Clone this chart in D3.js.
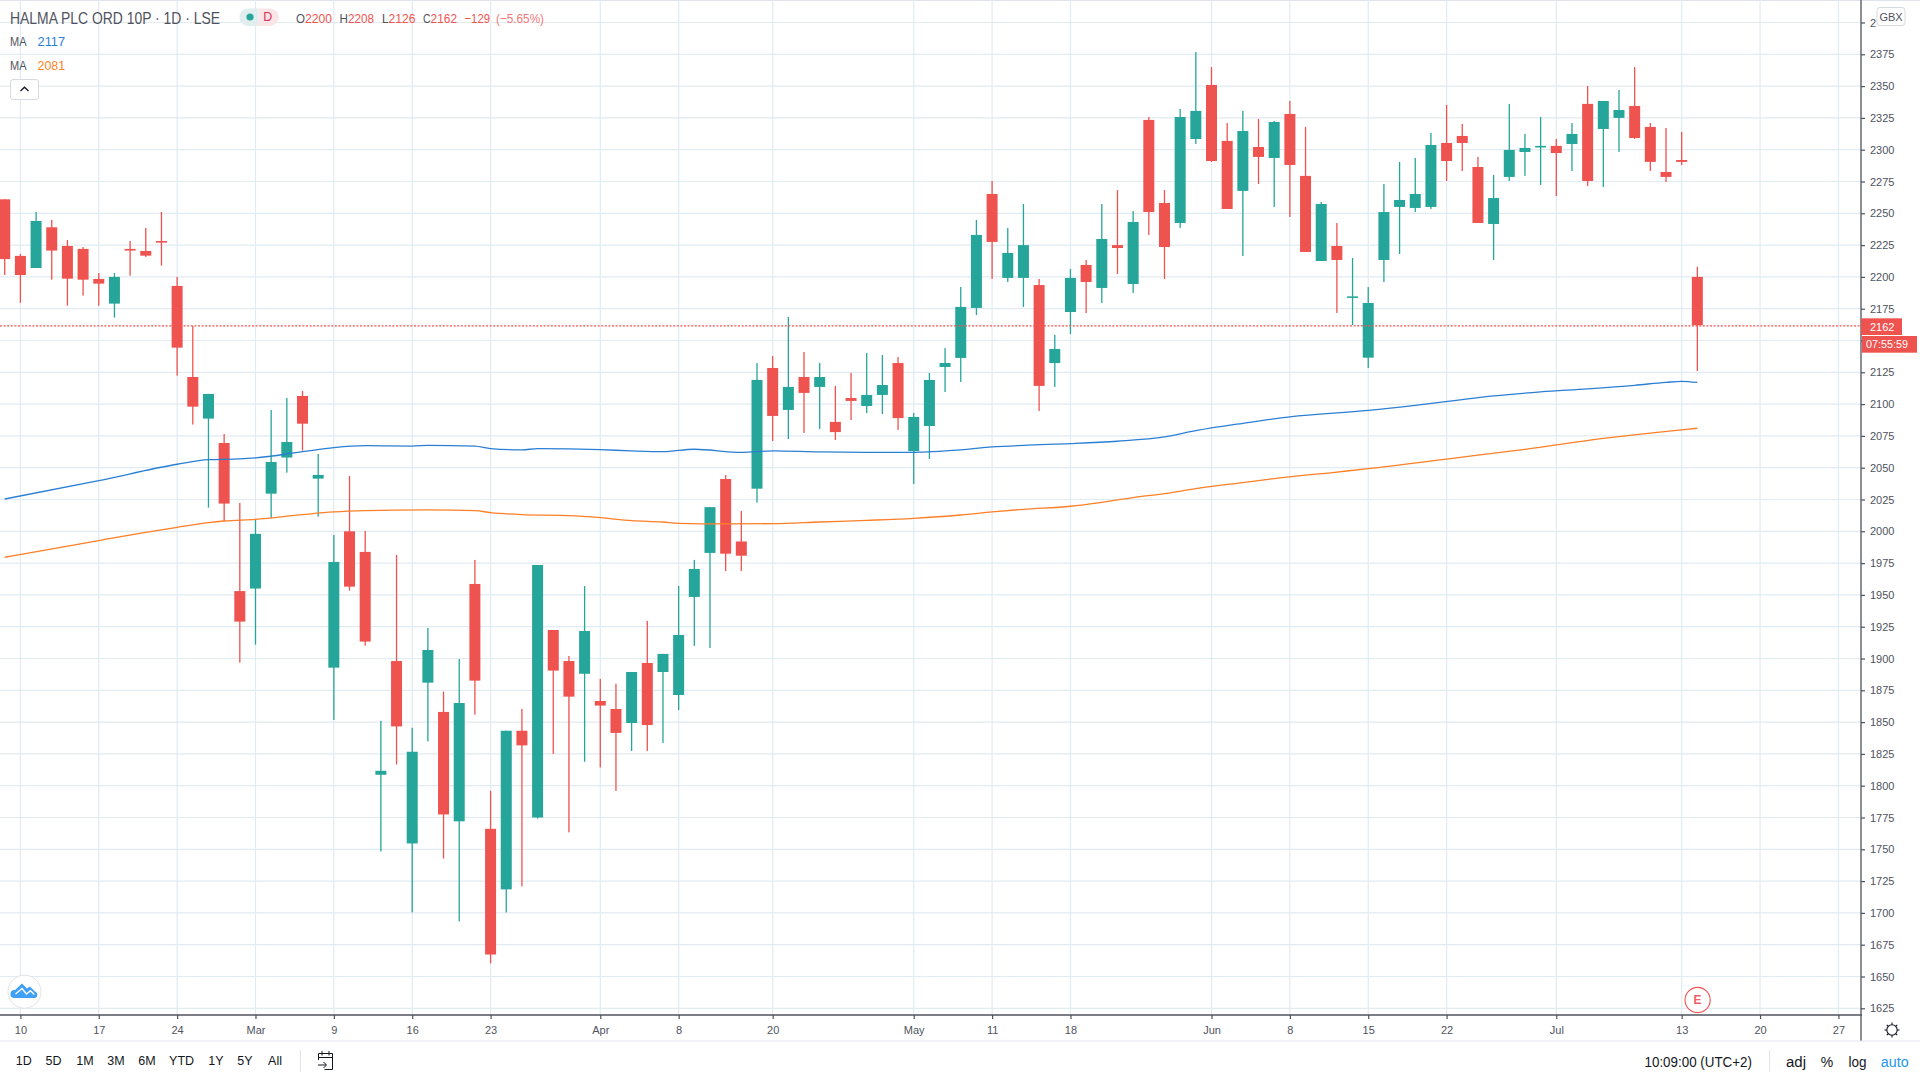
<!doctype html>
<html lang="en">
  <head>
    <meta charset="utf-8">
    <title>HALMA PLC ORD 10P</title>
    <script src="https://d3js.org/d3.v7.min.js"></script>
    <style>
      html, body { margin: 0; padding: 0; background: #fff; }
      svg { display: block; }
      text { font-family: "Liberation Sans", Arial, sans-serif; fill: #50535e; }
    </style>
  </head>
  <body>
    <svg id="chart" width="1920" height="1080"></svg>

    <script>
      // bars run from Feb 7 (bar -1) to Jul 14 (bar 107), LSE trading days only
      var firstBar = -1
      var opens = [2261,2216.5,2207,2239,2224.3,2222,2198.4,2179,2222,2220.4,2228.2,2192.9,2121.3,2088.6,2069.4,1953,1955,2029.6,2058,2106.4,2041.4,1892.8,2000,1983.8,1808.6,1898,1754.6,1881,1858,1772,1958.6,1766.1,1718.5,1843.2,1775,1922.4,1898,1888,1866.6,1860.3,1849.3,1896.5,1889.4,1871.3,1948.4,1983,2041.1,1992,2033.5,2128.4,2095.4,2121.3,2113.5,2086,2104.8,2098.5,2107.2,2132.3,2063,2082.8,2129.2,2136.3,2175.6,2265.2,2199.2,2199.2,2193.6,2132.3,2172.4,2209.4,2191.3,2225,2194.4,2323.4,2258.1,2242.4,2308.4,2350.9,2306.9,2267.6,2302.1,2293.5,2328.1,2279.4,2212.5,2224.3,2184.3,2136.5,2213.3,2255,2254.2,2255,2305.3,2310.8,2286.4,2241.6,2278.6,2298.2,2302.2,2303,2304.5,2336,2316.3,2325,2334.4,2317.9,2282.5,2291.9,2200]
      var highs = [2261,2218,2251,2244.8,2229,2223.5,2203,2203,2228.2,2238.5,2251,2200,2161.4,2108,2076.5,2022.3,2009.4,2095.4,2104.8,2110.3,2060.8,1997.1,2043.5,2000.3,1851,1981.4,1845.5,1924,1874,1899.6,1977.5,1796,1843.2,1860.3,1973.5,1922.4,1902,1956.9,1884,1880.2,1889.4,1929.5,1903.6,1957,1977.5,2019,2044.3,2016,2132.3,2137.8,2168.5,2141,2132.3,2114.3,2124.5,2140.2,2138.6,2137,2093,2124.5,2144,2192.1,2244.8,2275.4,2238.5,2257.3,2198.4,2154.4,2206.2,2213.3,2257.3,2268.3,2251.8,2325.7,2268.3,2332,2376.8,2365,2321,2330.5,2324.2,2322.6,2338.3,2317.9,2258.9,2242.4,2214.9,2192,2273,2290.4,2293.5,2313.2,2335.2,2320.2,2294.3,2280.1,2336,2312.4,2325.7,2308.4,2321,2350.1,2338.3,2347,2365,2321,2317.1,2314,2208]
      var lows = [2201.5,2179.6,2207,2197.8,2177.4,2185.3,2177.4,2168,2201,2215.7,2208.9,2122.4,2083.9,2018.6,2007.9,1896.7,1910.9,2010.2,2046.1,2063.4,2011.5,1851.7,1953.4,1910,1748.3,1816.7,1700.4,1834.8,1742.8,1693.3,1855.9,1660.3,1700.4,1720.8,1774,1825,1763.3,1818.8,1814.4,1795.9,1827.3,1827.3,1833.6,1859.5,1909.9,1908.3,1968.8,1968.8,2022.5,2071,2072.6,2077.3,2080.5,2071.8,2087.5,2093,2092.2,2079.7,2037.2,2056.9,2109.5,2117.4,2170,2198.4,2196,2176.4,2094.6,2113.5,2155.1,2171.6,2179.5,2202.3,2187.4,2233,2198.4,2238.5,2304.5,2290.4,2253.4,2216.4,2273,2255,2247.1,2219.6,2212.5,2171.6,2162.2,2128.4,2196,2218,2251,2253.4,2275.4,2283.3,2242.4,2213.3,2275.4,2279.4,2272.3,2263.6,2283.3,2271.5,2270.7,2298.2,2308.4,2283.3,2274.6,2288,2126]
      var closes = [2214,2201.5,2244,2220.7,2198.6,2197.8,2194.7,2200,2220.7,2216.7,2227,2144.4,2098,2108,2021.8,1929,1998,2054.5,2070.2,2084.6,2044.3,1975.9,1956.5,1913.3,1811.7,1846.6,1826.7,1906.7,1777.4,1865,1882.6,1667.3,1843.2,1831.7,1973.5,1890.5,1870,1921.6,1863,1841.5,1889.4,1847.7,1903.6,1918.5,1970.4,2019,1982.4,1980.8,2119,2090.7,2113.5,2108.8,2121.3,2078,2102.5,2107.2,2115,2089,2089.9,2119,2132.3,2176.4,2233,2227.5,2218.8,2225,2114.3,2143.3,2199.2,2196,2229.8,2222.7,2243.2,2251,2223.5,2325.7,2330.5,2291.1,2253.4,2314.7,2294.3,2321.8,2288,2219.6,2257.3,2213.3,2184.7,2179.5,2251,2260.5,2265.2,2303.7,2291.1,2305.3,2242.4,2262,2299.8,2301.4,2303,2297.4,2312.4,2275.4,2338.3,2331.2,2309.2,2290.4,2278.6,2290.4,2162]

      var blueBars = [-1,5,10,12,14,15,18,20,22,25,26,29,30,32,33,37,39,41,43,46,48,51,54,57,60,62,64,67,70,73,75,78,81,86,89,92,94,97,100,103,105,106,107]
      var blueValues = [2025.4,2039.8,2052.7,2056.3,2056.9,2057.7,2062.6,2065.8,2067.3,2067,2067.6,2067,2065,2064,2065,2064.2,2063.2,2062.6,2064.5,2062.1,2063.2,2062.4,2062.1,2062.1,2064,2066.3,2067.6,2068.9,2070.8,2074.2,2079.1,2084.9,2090,2095,2099,2103.6,2106.4,2109.6,2112,2114.8,2117.1,2117.9,2117]
      var orangeBars = [-1,5,8,10,12,13,15,18,20,22,26,29,30,32,35,37,39,41,42,45,48,51,54,57,60,62,64,67,69,71,73,75,78,80,84,86,91,96,101,106,107]
      var orangeValues = [1979.6,1992.7,1999.2,2003.1,2006.8,2008.1,2009.4,2013.1,2015.2,2016.2,2016.8,2016.2,2014.7,2013.1,2012.3,2010.7,2008.4,2007.3,2006.3,2005.8,2006,2007.3,2008.6,2010.2,2012.8,2015.2,2017.3,2019.7,2022.8,2026.5,2029.6,2033.5,2038.3,2041.4,2046.6,2049.2,2056.8,2064.4,2073,2079.8,2081]

      var priceTicks = [1625,1650,1675,1700,1725,1750,1775,1800,1825,1850,1875,1900,1925,1950,1975,2000,2025,2050,2075,2100,2125,2150,2175,2200,2225,2250,2275,2300,2325,2350,2375,2400]
      // 2150 sits under the countdown tag, 2400 is cut off by the GBX box
      var priceLabels = ['1625','1650','1675','1700','1725','1750','1775','1800','1825','1850','1875','1900','1925','1950','1975','2000','2025','2050','2075','2100','2125','','2175','2200','2225','2250','2275','2300','2325','2350','2375','2']
      var timeBars = [0,5,10,15,20,25,30,37,42,48,57,62,67,76,81,86,91,98,106,111,116]
      var timeLabels = ['10','17','24','Mar','9','16','23','Apr','8','20','May','11','18','Jun','8','15','22','Jul','13','20','27']

      var lastClose = 2162
      var green = '#26a69a', red = '#ef5350'
      var axisColor = '#50535e', gridColor = '#e1ebf2'

      var svg = d3.select('#chart')
      var x = d3.scaleLinear().domain([0, 116]).range([20.4, 1838.4])
      var y = d3.scaleLinear().domain([2375, 1625]).range([54.3, 1008.3])
      var axisX = 1861, axisY = 1015

      svg.append('rect').attr('width', 1920).attr('height', 1080).attr('fill', '#fff')
      svg.append('line').attr('x1', 0).attr('x2', 1920).attr('y1', 0.5).attr('y2', 0.5).attr('stroke', '#e0e3eb')

      // grid
      var grid = svg.append('g').attr('stroke', gridColor).attr('stroke-width', 1.2)
      grid.selectAll('.h').data(priceTicks).enter().append('line')
          .attr('x1', 0).attr('x2', axisX).attr('y1', function(d) { return y(d) }).attr('y2', function(d) { return y(d) })
      grid.selectAll('.v').data(timeBars).enter().append('line')
          .attr('y1', 0).attr('y2', axisY).attr('x1', function(d) { return x(d) }).attr('x2', function(d) { return x(d) })

      // candles
      var bars = opens.map(function(o, i) {
          return { bar: firstBar + i, o: o, h: highs[i], l: lows[i], c: closes[i] }
      })
      var candle = svg.append('g').selectAll('g').data(bars).enter().append('g')
          .attr('fill', function(d) { return d.c >= d.o ? green : red })
      candle.append('rect')
          .attr('x', function(d) { return x(d.bar) - 0.65 })
          .attr('width', 1.3)
          .attr('y', function(d) { return y(d.h) })
          .attr('height', function(d) { return y(d.l) - y(d.h) })
      candle.append('rect')
          .attr('x', function(d) { return x(d.bar) - 5.5 })
          .attr('width', 11)
          .attr('y', function(d) { return y(Math.max(d.o, d.c)) })
          .attr('height', function(d) { return Math.max(1.6, Math.abs(y(d.o) - y(d.c))) })

      // moving averages
      var maLine = d3.line().curve(d3.curveMonotoneX)
      svg.append('path')
          .attr('d', maLine(blueBars.map(function(b, i) { return [x(b), y(blueValues[i])] })))
          .attr('fill', 'none').attr('stroke', '#2a7fd5').attr('stroke-width', 1.3)
      svg.append('path')
          .attr('d', maLine(orangeBars.map(function(b, i) { return [x(b), y(orangeValues[i])] })))
          .attr('fill', 'none').attr('stroke', '#ff7f27').attr('stroke-width', 1.3)

      // last price line
      svg.append('line').attr('x1', 0).attr('x2', axisX)
          .attr('y1', y(lastClose) + 0.7).attr('y2', y(lastClose) + 0.7)
          .attr('stroke', red).attr('stroke-width', 1.2).attr('stroke-dasharray', '2,1.6')

      // axes
      var priceAxis = d3.axisRight(y).tickValues(priceTicks).tickSize(4).tickPadding(5)
          .tickFormat(function(d, i) { return priceLabels[i] })
      var gy = svg.append('g').attr('transform', 'translate(' + axisX + ',0)').call(priceAxis)
      gy.select('.domain').remove()
      var timeAxis = d3.axisBottom(x).tickValues(timeBars).tickSize(4).tickPadding(7)
          .tickFormat(function(d, i) { return timeLabels[i] })
      var gx = svg.append('g').attr('transform', 'translate(0,' + axisY + ')').call(timeAxis)
      gx.select('.domain').remove()
      svg.selectAll('.tick line').attr('stroke', axisColor).attr('stroke-width', 1.2)
      svg.selectAll('.tick text').attr('font-size', 11).style('font-family', '"Liberation Sans", Arial, sans-serif').attr('fill', axisColor)

      svg.append('line').attr('x1', 0).attr('x2', axisX + 1).attr('y1', axisY).attr('y2', axisY).attr('stroke', axisColor).attr('stroke-width', 1.3)
      svg.append('line').attr('x1', axisX).attr('x2', axisX).attr('y1', 0).attr('y2', 1041).attr('stroke', axisColor).attr('stroke-width', 1.3)
      svg.append('line').attr('x1', 0).attr('x2', 1920).attr('y1', 1041).attr('y2', 1041).attr('stroke', '#e0e3eb').attr('stroke-width', 1.2)

      // small helper for all the free text
      function label(t, px, py, size, color, opts) {
          opts = opts || {}
          var el = svg.append('text').text(t).attr('x', px).attr('y', py)
              .attr('font-size', size).style('fill', color).attr('dominant-baseline', 'central')
          if (opts.anchor) el.attr('text-anchor', opts.anchor)
          if (opts.bold) el.style('font-weight', 'bold')
          if (opts.width) el.attr('textLength', opts.width).attr('lengthAdjust', 'spacingAndGlyphs')
          return el
      }

      // price tags
      svg.append('rect').attr('x', axisX).attr('y', 318.3).attr('width', 41).attr('height', 16.7).attr('fill', red)
      label('2162', 1870, 326.6, 11, '#fff')
      svg.append('rect').attr('x', axisX + 1).attr('y', 336).attr('width', 55).attr('height', 16.7).attr('fill', red)
      label('07:55:59', 1866, 344.4, 11.5, '#fff', { width: 42 })

      // currency box
      svg.append('rect').attr('x', 1877).attr('y', 7.5).attr('width', 28).attr('height', 18).attr('rx', 3)
          .attr('fill', '#fff').attr('stroke', '#d6d9de')
      label('GBX', 1891, 16.6, 11, '#50535e', { anchor: 'middle' })

      // legend
      label('HALMA PLC ORD 10P \u00b7 1D \u00b7 LSE', 10, 17.6, 16.5, '#50535e', { width: 210 })
      svg.append('path').attr('d', 'M248,8.5 a8.7,8.7 0 0 0 0,17.4 h10.5 v-17.4 z').attr('fill', '#e1eef0')
      svg.append('path').attr('d', 'M258.5,8.5 h11.5 a8.7,8.7 0 0 1 0,17.4 h-11.5 z').attr('fill', '#fbe5e7')
      svg.append('circle').attr('cx', 250).attr('cy', 17).attr('r', 3.6).attr('fill', green)
      label('D', 267.8, 17.3, 12.5, '#e0315a', { anchor: 'middle' })

      label('O', 296, 18.4, 13, '#50535e', { width: 9 })
      label('2200', 305, 18.4, 13, red, { width: 27 })
      label('H', 339.6, 18.4, 13, '#50535e', { width: 8.4 })
      label('2208', 348, 18.4, 13, red, { width: 26 })
      label('L', 382, 18.4, 13, '#50535e', { width: 6.5 })
      label('2126', 388.6, 18.4, 13, red, { width: 27 })
      label('C', 423, 18.4, 13, '#50535e', { width: 7.5 })
      label('2162', 430.6, 18.4, 13, red, { width: 26.5 })
      label('\u2212129', 464.5, 18.4, 13, red, { width: 25.5 })
      label('(\u22125.65%)', 496, 18.4, 13, '#f0787a', { width: 48 })

      label('MA', 10, 41.8, 12.5, '#50535e', { width: 16.5 })
      label('2117', 37.6, 41.8, 13, '#2a7fd5', { width: 27.5 })
      label('MA', 10, 65.8, 12.5, '#50535e', { width: 16.5 })
      label('2081', 37.6, 65.8, 13, '#ff7f27', { width: 27.5 })

      svg.append('rect').attr('x', 10.5).attr('y', 79.5).attr('width', 28).attr('height', 20).attr('rx', 2.5)
          .attr('fill', '#fff').attr('stroke', '#d6d9de')
      svg.append('path').attr('d', 'M20.5,91 L24.5,87.2 L28.5,91').attr('fill', 'none').attr('stroke', '#131722').attr('stroke-width', 1.3)

      // earnings marker
      svg.append('circle').attr('cx', 1697.6).attr('cy', 1000).attr('r', 12.6).attr('fill', '#fff').attr('stroke', red).attr('stroke-width', 1.1)
      label('E', 1697.6, 1000.3, 12, '#f0606a', { anchor: 'middle', bold: true })

      // logo
      svg.append('circle').attr('cx', 24.5).attr('cy', 991.7).attr('r', 16.5).attr('fill', '#fff').attr('stroke', '#e0e3e6')
      svg.append('path').attr('d', 'M14,998 a4,4 0 0 1 1,-8 l7,-6.5 l5,5 l3,-2 l5,5 a3.4,3.4 0 0 1 0,6.5 z').attr('fill', '#40a0f5')
      svg.append('path').attr('d', 'M15.5,994 l6.5,-5.5 l4.5,5.5 l4,-3.2 l3.8,3.6').attr('fill', 'none').attr('stroke', '#fff').attr('stroke-width', 1.4)

      // bottom toolbar
      var rangeLabels = ['1D','5D','1M','3M','6M','YTD','1Y','5Y','All']
      var rangeCentres = [23.7,53.5,85,116,147,181.6,216,245,275]
      rangeLabels.forEach(function(r, i) {
          label(r, rangeCentres[i], 1061, 12.5, '#131722', { anchor: 'middle' })
      })
      svg.append('line').attr('x1', 300.5).attr('x2', 300.5).attr('y1', 1050).attr('y2', 1072).attr('stroke', '#e0e3eb')
      svg.append('path').attr('d', 'M318.5,1060 v-6.5 h14 v16 h-8 M322,1051 v4.5 M329,1051 v4.5 M318.5,1057.5 h14 M318,1065 h8 M323.5,1062 l3,3 l-3,3')
          .attr('fill', 'none').attr('stroke', '#131722').attr('stroke-width', 1)

      label('10:09:00 (UTC+2)', 1644.5, 1061.5, 14, '#131722', { width: 107.5 })
      svg.append('line').attr('x1', 1769.5).attr('x2', 1769.5).attr('y1', 1050).attr('y2', 1072).attr('stroke', '#e0e3eb')
      label('adj', 1786, 1061.5, 14, '#131722', { width: 20 })
      label('%', 1827, 1061.5, 14, '#131722', { anchor: 'middle' })
      label('log', 1848.6, 1061.5, 14, '#131722', { width: 18 })
      label('auto', 1880.8, 1061.5, 14, '#2196f3', { width: 27.8 })

      // settings gear
      svg.append('circle').attr('cx', 1892).attr('cy', 1030).attr('r', 5.2).attr('fill', 'none').attr('stroke', '#131722').attr('stroke-width', 1.1)
      d3.range(0, 8).forEach(function(k) {
          var a = k * Math.PI / 4
          svg.append('line')
              .attr('x1', 1892 + 5.2 * Math.cos(a)).attr('y1', 1030 + 5.2 * Math.sin(a))
              .attr('x2', 1892 + 7.4 * Math.cos(a)).attr('y2', 1030 + 7.4 * Math.sin(a))
              .attr('stroke', '#131722').attr('stroke-width', 1.1)
      })
    </script>
  </body>
</html>
